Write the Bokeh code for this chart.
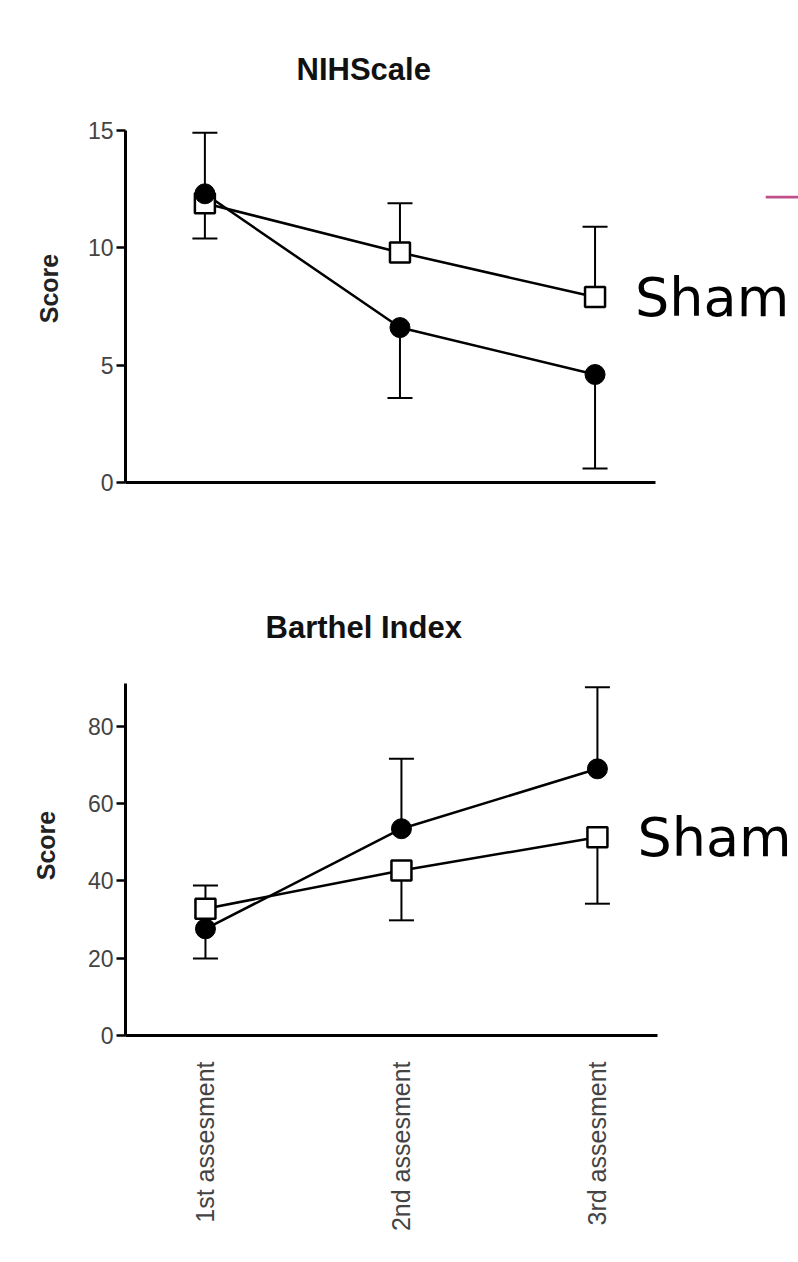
from math import pi
from bokeh.plotting import figure
from bokeh.models import (FixedTicker, Whisker, TeeHead, ColumnDataSource, Range1d,
                          BoxAnnotation)
from bokeh.layouts import column
from bokeh.core.properties import value
from bokeh.embed import file_html
from bokeh.resources import INLINE

# ---------------- data ----------------
categories = ["1st assesment", "2nd assesment", "3rd assesment"]

nih_title = "NIHScale"
nih_ticks = [0, 5, 10, 15]
nih_treated = [12.3, 6.6, 4.6]
nih_treated_err_end = [14.9, 3.6, 0.6]
nih_sham = [11.9, 9.8, 7.9]
nih_sham_err_end = [10.4, 11.9, 10.9]

barthel_title = "Barthel Index"
barthel_ticks = [0, 20, 40, 60, 80]
barthel_treated = [27.6, 53.5, 69.0]
barthel_treated_err_end = [19.9, 71.6, 90.1]
barthel_sham = [32.8, 42.7, 51.3]
barthel_sham_err_end = [38.8, 29.8, 34.1]

sham_label = "Sham"
y_label = "Score"

xs = [i + 1 for i in range(len(categories))]

FONT = "Liberation Sans"


def add_errorbars(p, vals, ends):
    up = dict(base=[], lower=[], upper=[])
    dn = dict(base=[], lower=[], upper=[])
    for x, v, e in zip(xs, vals, ends):
        if e >= v:
            up["base"].append(x); up["lower"].append(v); up["upper"].append(e)
        else:
            dn["base"].append(x); dn["lower"].append(e); dn["upper"].append(v)
    if up["base"]:
        p.add_layout(Whisker(source=ColumnDataSource(up), base="base", lower="lower", upper="upper",
                             line_width=2, line_color="black",
                             upper_head=TeeHead(size=25, line_width=2, line_color="black"),
                             lower_head=None))
    if dn["base"]:
        p.add_layout(Whisker(source=ColumnDataSource(dn), base="base", lower="lower", upper="upper",
                             line_width=2, line_color="black",
                             lower_head=TeeHead(size=25, line_width=2, line_color="black"),
                             upper_head=None))


def make_panel(height, border_left, border_top, border_bottom, x_range, y_range, x_bounds,
               y_bounds, ticks, title, title_offset, title_standoff, label_standoff,
               treated, treated_end, sham, sham_end, show_xlabels, square_on_top):
    p = figure(width=798, height=height, output_backend="svg", toolbar_location=None,
               x_range=Range1d(*x_range), y_range=Range1d(*y_range), title=title,
               min_border_left=border_left, min_border_right=0, min_border_top=border_top,
               min_border_bottom=border_bottom)
    p.outline_line_color = None
    p.grid.visible = False
    p.background_fill_color = "white"
    p.border_fill_color = "white"

    # title
    p.title.align = "left"
    p.title.offset = title_offset
    p.title.standoff = title_standoff
    p.title.text_font = FONT
    p.title.text_font_style = "bold"
    p.title.text_font_size = "31px"
    p.title.text_color = "#111111"

    # y axis
    yax = p.yaxis[0]
    yax.ticker = FixedTicker(ticks=ticks)
    yax.bounds = y_bounds
    yax.axis_line_width = 3
    yax.axis_line_color = "black"
    yax.major_tick_line_width = 2.5
    yax.major_tick_out = 9
    yax.major_tick_in = 0
    yax.minor_tick_line_color = None
    yax.major_label_text_font = FONT
    yax.major_label_text_font_size = "23px"
    yax.major_label_text_color = "#444444"
    yax.major_label_standoff = 3
    yax.axis_label = y_label
    yax.axis_label_text_font = FONT
    yax.axis_label_text_font_style = "bold"
    yax.axis_label_text_font_size = "25px"
    yax.axis_label_text_color = "#222222"
    yax.axis_label_standoff = label_standoff

    # x axis
    xax = p.xaxis[0]
    xax.bounds = x_bounds
    xax.axis_line_width = 3
    xax.axis_line_color = "black"
    xax.major_tick_line_color = None
    xax.minor_tick_line_color = None
    if show_xlabels:
        xax.ticker = FixedTicker(ticks=xs)
        xax.major_label_overrides = {x: c for x, c in zip(xs, categories)}
        xax.major_label_orientation = pi / 2
        xax.major_label_text_font = FONT
        xax.major_label_text_font_size = "25px"
        xax.major_label_text_color = "#444444"
        xax.major_label_standoff = 20
    else:
        xax.ticker = FixedTicker(ticks=[])

    add_errorbars(p, treated, treated_end)
    add_errorbars(p, sham, sham_end)

    p.line(xs, treated, line_width=2.5, line_color="black")
    p.line(xs, sham, line_width=2.5, line_color="black")

    def squares():
        p.scatter(xs, sham, marker="square", size=20, fill_color="white",
                  line_color="black", line_width=2.5)

    def circles():
        p.scatter(xs, treated, marker="circle", size=20, fill_color="black",
                  line_color="black")

    if square_on_top:
        circles(); squares()
    else:
        squares(); circles()

    p.text(x=[xs[-1]], y=[sham[-1]], text=[sham_label], x_offset=40,
           text_baseline="middle", text_align="left",
           text_font=value("DejaVu Sans"), text_font_size="54px", text_color="black")
    return p


top = make_panel(height=545, border_left=120, border_top=94, border_bottom=63,
                 x_range=(0.593, 4.043), y_range=(0, 16.53),
                 x_bounds=(0.593, 3.31), y_bounds=(0, 15),
                 ticks=nih_ticks, title=nih_title, title_offset=171, title_standoff=15,
                 label_standoff=22,
                 treated=nih_treated, treated_end=nih_treated_err_end,
                 sham=nih_sham, sham_end=nih_sham_err_end,
                 show_xlabels=False, square_on_top=False)

# small pink rule at the right edge (slide decoration)
top.add_layout(BoxAnnotation(left=3.875, bottom=12.10, top=12.22, fill_color="#c0508a",
                             fill_alpha=1.0, line_color=None))

bottom = make_panel(height=715, border_left=125, border_top=110, border_bottom=225,
                    x_range=(0.592, 4.026), y_range=(0, 98.32),
                    x_bounds=(0.592, 3.306), y_bounds=(0, 91),
                    ticks=barthel_ticks, title=barthel_title, title_offset=140,
                    title_standoff=21, label_standoff=25,
                    treated=barthel_treated, treated_end=barthel_treated_err_end,
                    sham=barthel_sham, sham_end=barthel_sham_err_end,
                    show_xlabels=True, square_on_top=True)

layout = column(top, bottom, spacing=0)
open("out.html", "w").write(file_html(layout, INLINE))
